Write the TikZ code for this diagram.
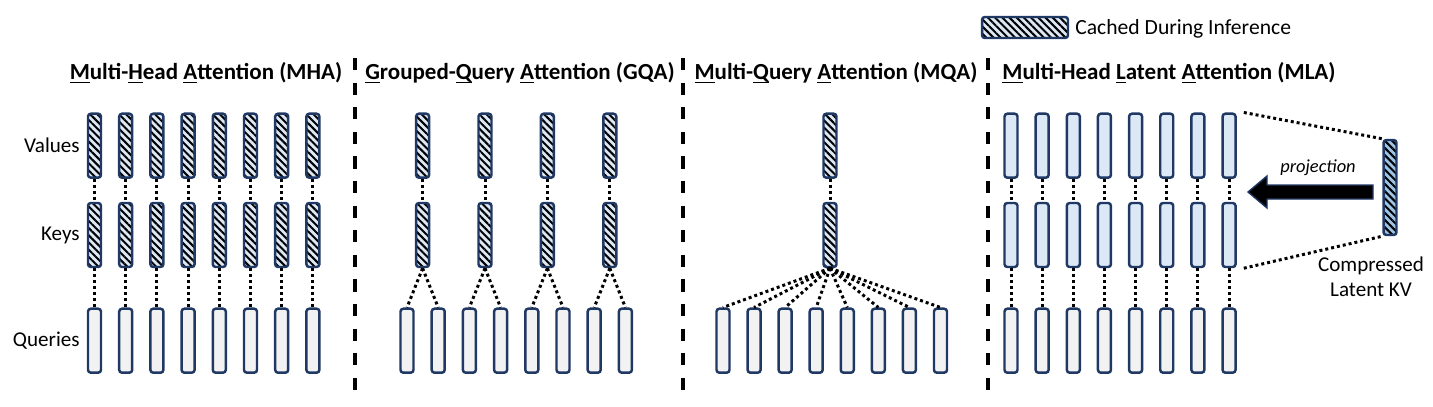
\documentclass[tikz,border=0pt]{standalone}
\usepackage{fontspec}
\setmainfont{Carlito}
\usetikzlibrary{patterns.meta}
\definecolor{navy}{HTML}{1F3864}
\definecolor{kvblue}{HTML}{DCE8F5}
\definecolor{qgray}{HTML}{F2F2F2}
\definecolor{latblue}{HTML}{9DC3E6}
\newcommand{\ulL}[1]{\underline{\smash{#1}}}
\begin{document}
\begin{tikzpicture}[x=0.02cm,y=-0.02cm,
  bar/.style={draw=navy, line width=1.4pt, rounded corners=1.6pt, minimum width=0.26cm, minimum height=1.28cm, inner sep=0pt},
  cached/.style={bar, preaction={fill=kvblue}, pattern={Lines[angle=-45,distance=2.9pt,line width=1.15pt]}, pattern color=black},
  plainkv/.style={bar, fill=kvblue},
  query/.style={bar, fill=qgray},
  dotline/.style={line width=1.7pt, dash pattern=on 1.7pt off 1.7pt},
  sep/.style={line width=2.2pt, dash pattern=on 7pt off 7pt},
  title/.style={font=\bfseries\fontsize{13.1}{16}\selectfont, inner sep=0pt},
  lab/.style={font=\fontsize{12}{14.4}\selectfont, inner sep=0pt},
  bigarrow/.style={fill=black, draw=navy, line width=0.8pt, line join=miter}
]
\useasboundingbox (0,0) rectangle (1433,406);

% legend
\node[cached, minimum width=1.72cm, minimum height=0.42cm] (leg) at (1025,27.5) {};
\node[lab, font=\fontsize{12.3}{14.4}\selectfont, anchor=west] (legt) at (1075,29) {Cached During Inference};

% titles
\node[title] (t1) at (206,73) {\ulL{M}ulti-\ulL{H}ead \ulL{A}ttention (MHA)};
\node[title] (t2) at (520,73) {\ulL{G}rouped-\ulL{Q}uery \ulL{A}ttention (GQA)};
\node[title] (t3) at (836,73) {\ulL{M}ulti-\ulL{Q}uery \ulL{A}ttention (MQA)};
\node[title] (t4) at (1169,73) {\ulL{M}ulti-Head \ulL{L}atent \ulL{A}ttention (MLA)};

% row labels
\node[lab, anchor=east] (lv) at (80,145) {Values};
\node[lab, anchor=east] (lk) at (80,235) {Keys};
\node[lab, anchor=east] (lq) at (80,341) {Queries};

% separators
\coordinate (s1t) at (355,58); \coordinate (s1b) at (355,402);
\coordinate (s2t) at (683,58); \coordinate (s2b) at (683,402);
\coordinate (s3t) at (988,58); \coordinate (s3b) at (988,402);
\draw[sep] (s1t) -- (s1b);
\draw[sep] (s2t) -- (s2b);
\draw[sep] (s3t) -- (s3b);

% MHA
\foreach \i in {1,...,8} {
  \pgfmathsetmacro\xx{94.5+31.2*(\i-1)}
  \node[cached] (a-v\i) at (\xx,145.7) {};
  \node[cached] (a-k\i) at (\xx,235) {};
  \node[query] (a-q\i) at (\xx,340.7) {};
  \draw[dotline] (a-v\i) -- (a-k\i);
  \draw[dotline] (a-k\i) -- (a-q\i);
}

% GQA
\foreach \i in {1,...,4} {
  \pgfmathsetmacro\xx{422.6+62.4*(\i-1)}
  \node[cached] (g-v\i) at (\xx,145.7) {};
  \node[cached] (g-k\i) at (\xx,235) {};
  \draw[dotline] (g-v\i) -- (g-k\i);
}
\foreach \j in {1,...,8} {
  \pgfmathsetmacro\xx{407+31.2*(\j-1)}
  \node[query] (g-q\j) at (\xx,340.7) {};
}
\foreach \i/\a/\b in {1/1/2,2/3/4,3/5/6,4/7/8} {
  \draw[dotline] (g-k\i.south) -- (g-q\a.north);
  \draw[dotline] (g-k\i.south) -- (g-q\b.north);
}

% MQA
\node[cached] (m-v) at (830,145.7) {};
\node[cached] (m-k) at (830,235) {};
\draw[dotline] (m-v) -- (m-k);
\foreach \j in {1,...,8} {
  \pgfmathsetmacro\xx{723+31.07*(\j-1)}
  \node[query] (m-q\j) at (\xx,340.7) {};
  \draw[dotline] (m-k.south) -- (m-q\j.north);
}

% MLA
\foreach \i in {1,...,8} {
  \pgfmathsetmacro\xx{1011+31.15*(\i-1)}
  \node[plainkv] (l-v\i) at (\xx,145.7) {};
  \node[plainkv] (l-k\i) at (\xx,235) {};
  \node[query] (l-q\i) at (\xx,340.7) {};
  \draw[dotline] (l-v\i) -- (l-k\i);
  \draw[dotline] (l-k\i) -- (l-q\i);
}
\node[cached, preaction={fill=latblue}, minimum height=1.9cm] (lat) at (1390,187.5) {};
\draw[dotline] ([xshift=4pt]l-v8.north east) -- (lat.north west);
\draw[dotline] ([xshift=4pt]l-k8.south east) -- (lat.south west);

\draw[bigarrow] (1248,192) -- (1267,176) -- (1267,185) -- (1373,185) -- (1373,199) -- (1267,199) -- (1267,208) -- cycle;
\node[lab, font=\itshape\fontsize{10.5}{12}\selectfont] (proj) at (1318,168) {projection};
\node[lab, align=center] (comp) at (1371,277) {Compressed\\Latent KV};
\end{tikzpicture}
\end{document}
